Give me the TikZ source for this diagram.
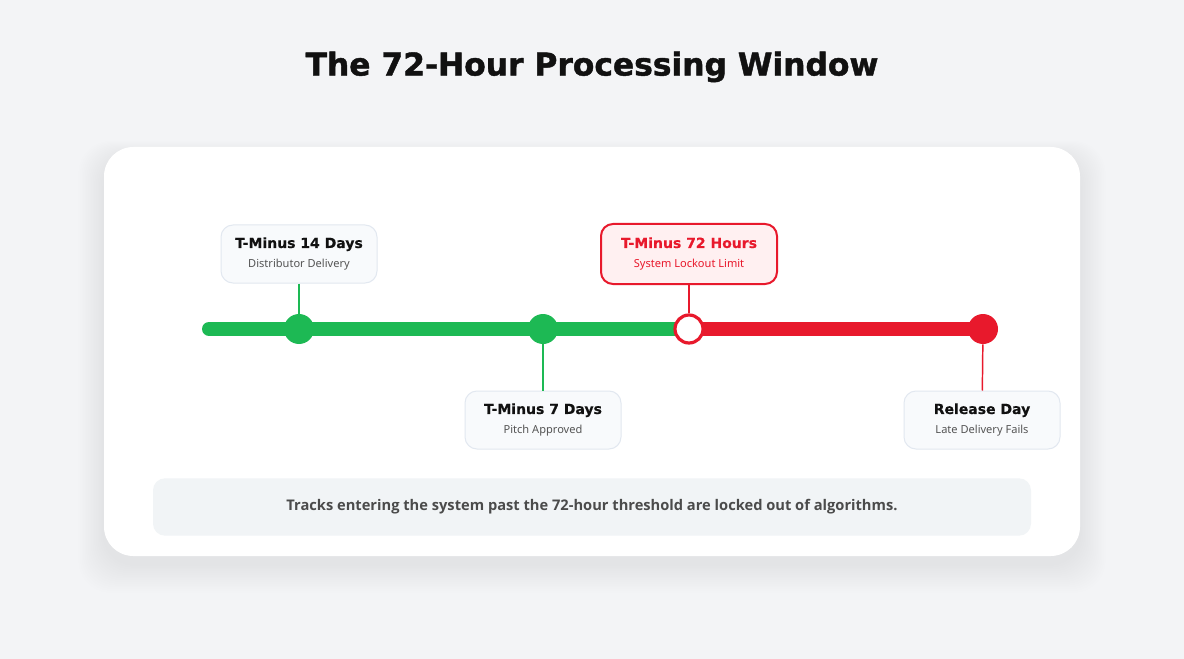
\documentclass[tikz,border=0pt]{standalone}
\usepackage{fontspec}
\setmainfont{Noto Sans}
\newfontfamily\headfont{DejaVu Sans}[BoldFeatures={FakeBold=0.4}]
\newfontfamily\titlefont{DejaVu Sans}[BoldFeatures={FakeBold=1.4}]
\newfontfamily\notefont{Open Sans}

\definecolor{pagebg}{HTML}{F3F4F6}
\definecolor{okgreen}{HTML}{1DB954}
\definecolor{lockred}{HTML}{E8192C}
\definecolor{boxfill}{HTML}{F8FAFC}
\definecolor{boxline}{HTML}{E2E8F0}
\definecolor{redfill}{HTML}{FFF0F1}
\definecolor{inktext}{HTML}{111111}
\definecolor{subtext}{HTML}{555555}
\definecolor{notefill}{HTML}{F1F4F6}
\definecolor{notetext}{HTML}{4B4B4B}

\tikzset{
  milestone/.style={draw=boxline, line width=0.75pt, fill=boxfill, rounded corners=9pt,
    minimum width=117pt, minimum height=43.5pt, align=center, inner sep=0pt, text=inktext},
  lockbox/.style={milestone, draw=lockred, line width=1.5pt, fill=redfill, text=lockred,
    minimum width=132pt, minimum height=45pt},
  dot/.style={circle, minimum size=22.5pt, inner sep=0pt},
  stem/.style={line width=1.1pt},
}
\newcommand{\mtitle}[1]{{\headfont\bfseries\fontsize{10.5}{12}\selectfont #1}}
\newcommand{\msub}[1]{{\fontsize{8.3}{10}\selectfont #1}}

\begin{document}
\begin{tikzpicture}[x=0.75pt,y=-0.75pt]
    % Define variables for x-coordinates
    \def\ylin{329}
    \def\xa{299}
    \def\xb{543}
    \def\xc{689}
    \def\xd{983}

    % Page and card
    \fill[pagebg] (0,0) rectangle (1184,659);
    \useasboundingbox (0,0) rectangle (1184,659);
    \foreach \s in {1,...,16}
      \fill[black, opacity=0.0028, rounded corners=24pt] ({104-1.6*\s},{147-1.0*\s+10}) rectangle ({1080+1.6*\s},{556+1.8*\s+8});
    \fill[white, rounded corners=22pt] (104,147) rectangle (1080,556);

    % Title
    \node[text=inktext] (title) at (592,67) {\titlefont\bfseries\fontsize{23.5}{28}\selectfont The 72-Hour Processing Window};

    % Timeline
    \draw[okgreen, line width=10.5pt, line cap=round] (209,\ylin) -- (\xc,\ylin);
    \draw[lockred, line width=10.5pt, line cap=round] (\xc,\ylin) -- (\xd,\ylin);

    % Points
    \node[dot, fill=okgreen] (d14) at (\xa,\ylin) {};
    \node[dot, fill=okgreen] (d7) at (\xb,\ylin) {};
    \node[dot, fill=white, draw=lockred, line width=2.4pt, minimum size=21pt] (h72) at (\xc,\ylin) {};
    \node[dot, fill=lockred] (rel) at (\xd,\ylin) {};

    % Milestones
    \node[milestone] (m14) at (\xa,254) {\mtitle{T-Minus 14 Days}\\[3pt]\color{subtext}\msub{Distributor Delivery}};
    \node[milestone] (m7) at (\xb,420) {\mtitle{T-Minus 7 Days}\\[3pt]\color{subtext}\msub{Pitch Approved}};
    \node[lockbox] (m72) at (\xc,254) {\mtitle{T-Minus 72 Hours}\\[3pt]\msub{System Lockout Limit}};
    \node[milestone] (mrel) at (982,420) {\mtitle{Release Day}\\[3pt]\color{subtext}\msub{Late Delivery Fails}};

    % Stems
    \draw[stem, okgreen] (m14) -- (d14);
    \draw[stem, okgreen] (d7) -- (m7);
    \draw[stem, lockred] (m72) -- (h72);
    \draw[stem, lockred] (rel) -- (mrel);

    % Note
    \node[fill=notefill, rounded corners=9pt, minimum width=658.5pt, minimum height=43pt, text=notetext] (note) at (592,507)
      {\notefont\bfseries\fontsize{11}{13}\selectfont Tracks entering the system past the 72-hour threshold are locked out of algorithms.};
\end{tikzpicture}
\end{document}
